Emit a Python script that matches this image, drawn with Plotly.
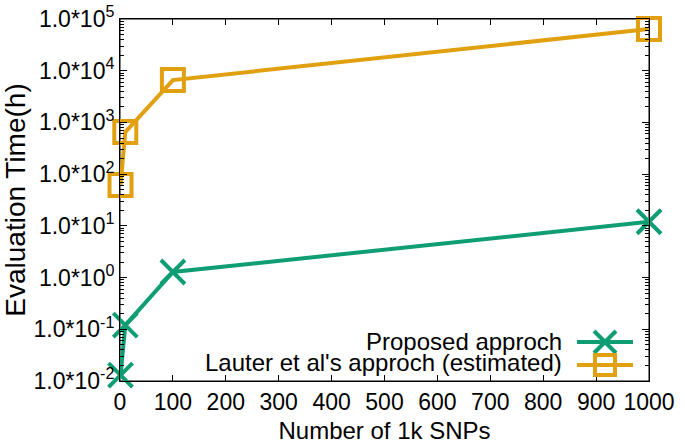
import plotly.graph_objects as go

snps = [1, 10, 100, 1000]
proposed = [0.013, 0.12, 1.28, 12.0]
lauter = [62, 650, 6600, 64000]

ytick_vals = [1e-2, 1e-1, 1e0, 1e1, 1e2, 1e3, 1e4, 1e5]
ytick_text = ["1.0*10<sup>-2</sup>", "1.0*10<sup>-1</sup>", "1.0*10<sup>0</sup>",
              "1.0*10<sup>1</sup>", "1.0*10<sup>2</sup>", "1.0*10<sup>3</sup>",
              "1.0*10<sup>4</sup>", "1.0*10<sup>5</sup>"]
xtick_vals = [0, 100, 200, 300, 400, 500, 600, 700, 800, 900, 1000]

names = ["Proposed approch", "Lauter et al's approch (estimated)"]
GREEN = "#0f9d73"
ORANGE = "#e0a010"
FONT = "Liberation Sans, Arial, sans-serif"

# plot box in page pixels
L, R, T, B = 120, 649, 19, 381
W, H = 685, 444


def px(x):
    return (x - L) / (R - L)


def py(y):
    return (B - y) / (B - T)


fig = go.Figure()
fig.add_trace(go.Scatter(x=snps, y=proposed, mode="lines+markers", name=names[0],
                         line=dict(color=GREEN, width=4),
                         marker=dict(symbol="x-thin-open", size=24, color=GREEN,
                                     line=dict(color=GREEN, width=4)),
                         cliponaxis=False, showlegend=False))
fig.add_trace(go.Scatter(x=snps, y=lauter, mode="lines+markers", name=names[1],
                         line=dict(color=ORANGE, width=4),
                         marker=dict(symbol="square-open", size=22, color=ORANGE,
                                     line=dict(color=ORANGE, width=4)),
                         cliponaxis=False, showlegend=False))

# plot frame (gnuplot border)
fig.add_shape(type="rect", xref="paper", yref="paper", x0=0, x1=1, y0=0, y1=1,
              line=dict(color="black", width=1), layer="below")

# custom legend (gnuplot style: text right, key sample right)
key_y = [342, 365]
text_y = [341, 362]
colors = [GREEN, ORANGE]
kx0, kx1, kc = 577, 633, 605
half = 11
for i in range(2):
    c = colors[i]
    fig.add_shape(type="line", xref="paper", yref="paper", x0=px(kx0), x1=px(kx1),
                  y0=py(key_y[i]), y1=py(key_y[i]), line=dict(color=c, width=4), layer="above")
    if i == 0:
        for s in (1, -1):
            fig.add_shape(type="line", xref="paper", yref="paper",
                          x0=px(kc - half), x1=px(kc + half),
                          y0=py(key_y[i] - s * half), y1=py(key_y[i] + s * half),
                          line=dict(color=c, width=4), layer="above")
    else:
        fig.add_shape(type="rect", xref="paper", yref="paper",
                      x0=px(kc - half + 1), x1=px(kc + half - 1),
                      y0=py(key_y[i] - half + 1), y1=py(key_y[i] + half - 1),
                      line=dict(color=c, width=4), layer="above")
    fig.add_annotation(x=px(564), y=py(text_y[i]), xref="paper", yref="paper", text=names[i],
                       showarrow=False, xanchor="right", yanchor="middle",
                       font=dict(family=FONT, size=24, color="black"))

axis_common = dict(showline=True, linecolor="black", linewidth=1, mirror="allticks",
                   ticks="inside", tickcolor="black", showgrid=False, zeroline=False,
                   automargin=False,
                   tickfont=dict(family=FONT, size=23, color="black"))

fig.update_layout(
    width=W, height=H,
    margin=dict(l=L, r=W - R, t=T, b=H - B),
    paper_bgcolor="white", plot_bgcolor="white",
    xaxis=dict(range=[0, 1000], tickvals=xtick_vals, ticklen=6,
               title=dict(text="Number of 1k SNPs", font=dict(family=FONT, size=24, color="black")),
               **axis_common),
    yaxis=dict(type="log", range=[-2, 5], tickvals=ytick_vals, ticktext=ytick_text,
               ticklen=7,
               minor=dict(ticks="inside", ticklen=4, tickcolor="black", dtick="D1", showgrid=False),
               title=dict(text="Evaluation Time(h)", font=dict(family=FONT, size=28, color="black")),
               **axis_common),
)

fig.write_html("out.html", config={"displayModeBar": False},
               post_script="document.body.style.margin='0';document.body.style.overflow='hidden';")
